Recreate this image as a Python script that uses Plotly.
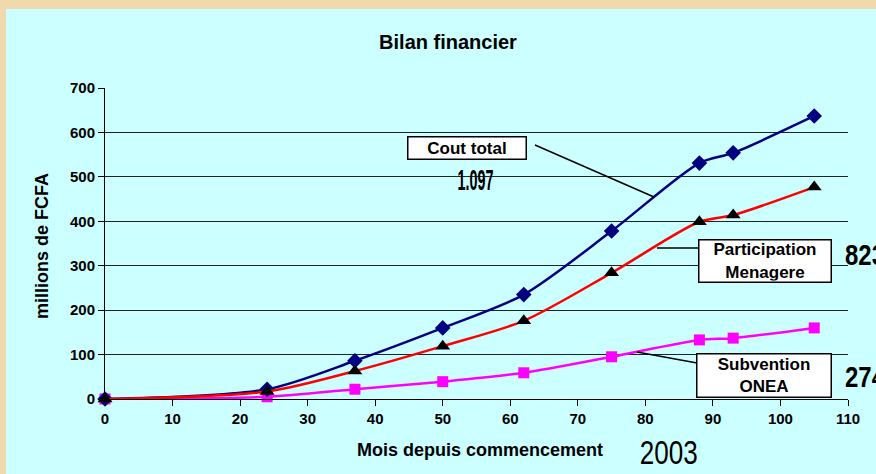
import plotly.graph_objects as go

months = [0, 24, 37, 50, 62, 75, 88, 93, 105]
cout_total = [0, 22, 86, 160, 235, 378, 531, 554, 637]
participation = [0, 17, 63, 119, 176, 284, 399, 414, 477]
subvention = [0, 5, 22, 39, 59, 95, 133, 137, 160]

title_text = "Bilan financier"
x_title = "Mois depuis commencement"
y_title = "millions de FCFA"
x_ticks = list(range(0, 111, 10))
y_ticks = list(range(0, 701, 100))

W, H = 876, 474
L, R, T, B = 105, 28, 88, 75

fig = go.Figure()
fig.add_trace(go.Scatter(x=months, y=subvention, mode="lines+markers",
                         line=dict(color="#FF00FF", width=2.5, shape="spline", smoothing=0.8),
                         marker=dict(symbol="square", size=11, color="#FF00FF"),
                         cliponaxis=False, name="Subvention ONEA"))
fig.add_trace(go.Scatter(x=months, y=cout_total, mode="lines+markers",
                         line=dict(color="#000080", width=2.5, shape="spline", smoothing=0.8),
                         marker=dict(symbol="diamond", size=12, color="#000080"),
                         cliponaxis=False, name="Cout total"))
fig.add_trace(go.Scatter(x=months, y=participation, mode="lines+markers",
                         line=dict(color="#FF0000", width=2.5, shape="spline", smoothing=0.8),
                         marker=dict(symbol="triangle-up", size=13, color="#000000"),
                         cliponaxis=False, name="Participation Menagere"))

pw = W - L - R
ph = H - T - B
def px(x):
    return (x - L) / pw
def py(y):
    return (H - B - y) / ph

shapes = [
    dict(type="rect", xref="paper", yref="paper", x0=px(6), x1=px(880), y0=py(9), y1=py(480),
         fillcolor="#CCFFFF", line=dict(width=0), layer="below"),
    dict(type="line", xref="paper", yref="paper", x0=px(535), y0=py(145), x1=px(654), y1=py(197),
         line=dict(color="black", width=1.5)),
    dict(type="line", xref="paper", yref="paper", x0=px(657), y0=py(248), x1=px(699), y1=py(248),
         line=dict(color="black", width=1.5)),
    dict(type="line", xref="paper", yref="paper", x0=px(637), y0=py(352), x1=px(697), y1=py(363),
         line=dict(color="black", width=1.5)),
]

FAM = "Liberation Sans, Arial"
box_font = dict(family=FAM, size=17, color="black", weight="bold")
big_font = dict(family=FAM, size=30, color="black", weight="bold")

annotations = [
    dict(text="Cout total", xref="paper", yref="paper", x=px(467), y=py(148),
         showarrow=False, font=box_font, bgcolor="white", bordercolor="black", borderwidth=1.5,
         borderpad=1, width=115, height=19, xanchor="center", yanchor="middle"),
    dict(text="Participation<br>Menagere", xref="paper", yref="paper", x=px(765), y=py(261),
         showarrow=False, font=box_font, bgcolor="white", bordercolor="black", borderwidth=1.5,
         borderpad=1, width=129, height=39, xanchor="center", yanchor="middle"),
    dict(text="Subvention<br>ONEA", xref="paper", yref="paper", x=px(764), y=py(375),
         showarrow=False, font=box_font, bgcolor="white", bordercolor="black", borderwidth=1.5,
         borderpad=1, width=131, height=40, xanchor="center", yanchor="middle"),
    dict(text="1.097", xref="paper", yref="paper", x=px(475), y=py(179),
         showarrow=False, font=big_font, xanchor="center", yanchor="middle"),
    dict(text="823", xref="paper", yref="paper", x=px(865), y=py(254),
         showarrow=False, font=big_font, xanchor="center", yanchor="middle"),
    dict(text="274", xref="paper", yref="paper", x=px(865), y=py(376),
         showarrow=False, font=big_font, xanchor="center", yanchor="middle"),
    dict(text="2003", xref="paper", yref="paper", x=px(669), y=py(452),
         showarrow=False, font=dict(family=FAM, size=34, color="black"),
         xanchor="center", yanchor="middle"),
    dict(text=y_title, xref="paper", yref="paper", x=px(42), y=py(246), textangle=-90,
         showarrow=False, font=dict(family=FAM, size=18, color="black", weight="bold"),
         xanchor="center", yanchor="middle"),
    dict(text=x_title, xref="paper", yref="paper", x=px(480), y=py(450),
         showarrow=False, font=dict(family=FAM, size=18, color="black", weight="bold"),
         xanchor="center", yanchor="middle"),
]

tick_font = dict(family=FAM, size=15, color="black", weight="bold")

fig.update_layout(
    width=W, height=H,
    margin=dict(l=L, r=R, t=T, b=B, pad=0),
    paper_bgcolor="#EFD9AD",
    plot_bgcolor="rgba(0,0,0,0)",
    showlegend=False,
    title=dict(text=title_text, xref="container", yref="container",
               x=448 / W, xanchor="center", y=1 - 42 / H, yanchor="middle",
               font=dict(family=FAM, size=20, color="black", weight="bold")),
    shapes=shapes,
    annotations=annotations,
)
fig.update_xaxes(range=[0, 110], tickvals=x_ticks,
                 ticks="outside", ticklen=6, tickcolor="black", tickwidth=1,
                 showline=True, linecolor="black", linewidth=1, showgrid=False, zeroline=False,
                 tickfont=tick_font)
fig.update_yaxes(range=[0, 700], tickvals=y_ticks,
                 ticks="outside", ticklen=6, tickcolor="black", tickwidth=1,
                 showline=True, linecolor="black", linewidth=1,
                 showgrid=True, gridcolor="#222222", gridwidth=1, zeroline=False,
                 tickfont=tick_font)

post = """
document.body.style.margin = '0';
var specs = {'1.097': 36, '823': 40, '274': 40, '2003': 58};
document.querySelectorAll('.annotation-text').forEach(function(t) {
  var s = specs[t.textContent];
  if (s) { t.setAttribute('textLength', s); t.setAttribute('lengthAdjust', 'spacingAndGlyphs'); }
});
"""

fig.write_html("out.html", post_script=post, config={"displayModeBar": False})
